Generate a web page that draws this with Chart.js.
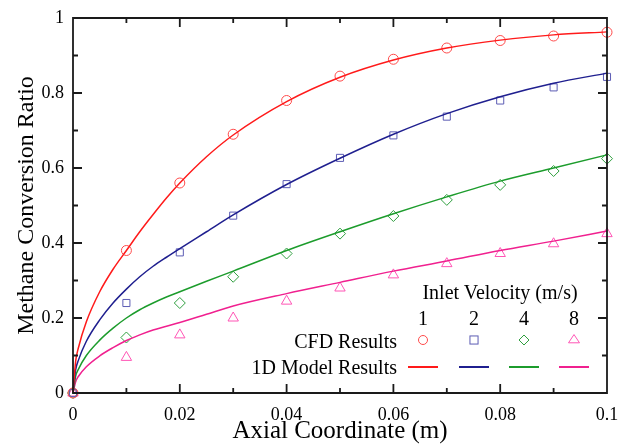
<!DOCTYPE html>
<html>
<head>
<meta charset="utf-8">
<script src="https://cdn.jsdelivr.net/npm/chart.js@4.4.1/dist/chart.umd.min.js"></script>
<style>
  html, body { margin: 0; padding: 0; background: #fff; }
  #wrap { position: relative; width: 626px; height: 446px; }
  #legend { position: absolute; left: 0; top: 0; width: 626px; height: 446px; pointer-events: none;
            font-family: 'Liberation Serif', 'DejaVu Serif', serif; font-size: 20px; color: #000; }
  #legend div { position: absolute; white-space: nowrap; line-height: 1; }
  #legend .c { transform: translate(-50%, -50%); }
  #legend .r { transform: translate(-100%, -50%); }
  #legend svg { position: absolute; left: 0; top: 0; }
</style>
</head>
<body>
<div id="wrap">
  <canvas id="c"></canvas>
  <div id="legend"></div>
</div>
<script>
// CFD sample positions (m)
const cfdX = [0, 0.01, 0.02, 0.03, 0.04, 0.05, 0.06, 0.07, 0.08, 0.09, 0.1];
const cfd1 = [0, 0.38, 0.56, 0.69, 0.78, 0.845, 0.89, 0.92, 0.94, 0.952, 0.962];
const cfd2 = [0, 0.24, 0.375, 0.473, 0.557, 0.627, 0.687, 0.737, 0.78, 0.815, 0.843];
const cfd4 = [0, 0.148, 0.24, 0.31, 0.372, 0.425, 0.472, 0.515, 0.555, 0.592, 0.625];
const cfd8 = [0, 0.095, 0.155, 0.2, 0.245, 0.28, 0.315, 0.345, 0.372, 0.398, 0.425];

// 1D model curves
const modelX = [0, 0.0005, 0.001, 0.0025, 0.005, 0.0075, 0.01, 0.0125, 0.015, 0.0175, 0.02, 0.025, 0.03, 0.04, 0.05, 0.06, 0.07, 0.08, 0.09, 0.1];
const model1 = [0, 0.085, 0.12, 0.19, 0.27, 0.33, 0.38, 0.43, 0.476, 0.52, 0.56, 0.63, 0.688, 0.777, 0.842, 0.888, 0.92, 0.941, 0.955, 0.963];
const model2 = [0, 0.062, 0.087, 0.138, 0.195, 0.24, 0.277, 0.31, 0.338, 0.362, 0.385, 0.43, 0.475, 0.556, 0.626, 0.69, 0.745, 0.79, 0.826, 0.853];
const model4 = [0, 0.045, 0.063, 0.1, 0.141, 0.173, 0.2, 0.222, 0.24, 0.256, 0.27, 0.298, 0.325, 0.38, 0.43, 0.478, 0.523, 0.565, 0.6, 0.635];
const model8 = [0, 0.03, 0.044, 0.07, 0.099, 0.121, 0.14, 0.155, 0.168, 0.178, 0.188, 0.21, 0.232, 0.265, 0.295, 0.325, 0.352, 0.38, 0.405, 0.432];

const velocities = ["1", "2", "4", "8"];
const lineColors = ["#ff1a1a", "#1f1f8f", "#1c9c2c", "#f0208f"];
const markColors = ["#ff4a4a", "#5c5cb4", "#2f9f3f", "#ff55b5"];
const markStyles = ["circle", "rect", "rectRot", "triangle"];
const markRadius = [5, 5, 5.5, 6];

const xTickStep = 0.02, yTickStep = 0.2;
const FONT = "'Liberation Serif', 'DejaVu Serif', serif";

function pts(xs, ys) { return xs.map((x, i) => ({x, y: ys[i]})); }

const datasets = [];
[model1, model2, model4, model8].forEach((m, i) => {
  datasets.push({
    type: "line", data: pts(modelX, m), borderColor: lineColors[i], borderWidth: 1.5,
    pointRadius: 0, cubicInterpolationMode: "monotone", fill: false, clip: false
  });
});
[cfd1, cfd2, cfd4, cfd8].forEach((c, i) => {
  datasets.push({
    type: "scatter", data: pts(cfdX, c), showLine: false, pointStyle: markStyles[i],
    pointRadius: markRadius[i], pointBorderColor: markColors[i], pointBackgroundColor: "rgba(0,0,0,0)",
    pointBorderWidth: 1, clip: false
  });
});

// tabular legend as an html overlay (text stays real text)
(function buildLegend() {
  const box = document.getElementById("legend");
  const colX = [423, 474, 524, 574];
  const add = (cls, x, y, text) => {
    const d = document.createElement("div");
    d.className = cls; d.style.left = x + "px"; d.style.top = y + "px"; d.textContent = text;
    box.appendChild(d);
  };
  add("c", 500, 292, "Inlet Velocity (m/s)");
  velocities.forEach((v, i) => add("c", colX[i], 318, v));
  add("r", 397, 341, "CFD Results");
  add("r", 397, 367, "1D Model Results");

  const ns = "http://www.w3.org/2000/svg";
  const svg = document.createElementNS(ns, "svg");
  svg.setAttribute("width", 626); svg.setAttribute("height", 446);
  const el = (tag, attrs) => {
    const e = document.createElementNS(ns, tag);
    Object.entries(attrs).forEach(([k, v]) => e.setAttribute(k, v));
    svg.appendChild(e);
  };
  colX.forEach((cx, i) => {
    const r = markRadius[i] - 0.5, y = 340, s = markColors[i];
    const base = {fill: "none", stroke: s, "stroke-width": 1};
    if (markStyles[i] === "circle") el("circle", {...base, cx, cy: y, r});
    else if (markStyles[i] === "rect") el("rect", {...base, x: cx - r * 0.9, y: y - r * 0.9, width: r * 1.8, height: r * 1.8});
    else if (markStyles[i] === "rectRot") el("polygon", {...base, points: `${cx},${y - r} ${cx + r},${y} ${cx},${y + r} ${cx - r},${y}`});
    else { const h = r * 1.5; el("polygon", {...base, points: `${cx},${y - h * 0.66} ${cx + r},${y + h * 0.34} ${cx - r},${y + h * 0.34}`}); }
    el("line", {x1: cx - 15, y1: 367, x2: cx + 15, y2: 367, stroke: lineColors[i], "stroke-width": 2});
  });
  box.appendChild(svg);
})();

// frame with inward ticks on all four sides
const framePlugin = {
  id: "frame",
  afterDraw(chart) {
    const ctx = chart.ctx, a = chart.chartArea;
    const sx = chart.scales.x, sy = chart.scales.y;
    ctx.save();
    ctx.strokeStyle = "#1a1a1a";
    ctx.lineWidth = 1.8;
    ctx.beginPath();
    ctx.rect(a.left, a.top, a.right - a.left, a.bottom - a.top);
    for (let k = 1; k < 10; k++) {
      const px = sx.getPixelForValue(k * 0.01), len = k % 2 === 0 ? 9 : 5;
      ctx.moveTo(px, a.bottom); ctx.lineTo(px, a.bottom - len);
      ctx.moveTo(px, a.top); ctx.lineTo(px, a.top + len);
      const py = sy.getPixelForValue(k * 0.1);
      ctx.moveTo(a.left, py); ctx.lineTo(a.left + len, py);
      ctx.moveTo(a.right, py); ctx.lineTo(a.right - len, py);
    }
    ctx.stroke();
    ctx.restore();
  }
};

new Chart(document.getElementById("c"), {
  data: {datasets},
  options: {
    responsive: true, maintainAspectRatio: false, animation: false,
    layout: {padding: {top: 18, right: 19, left: 12, bottom: 0}},
    plugins: {legend: {display: false}, tooltip: {enabled: false}},
    scales: {
      x: {
        type: "linear", min: 0, max: 0.1,
        grid: {display: false}, border: {display: false},
        ticks: {stepSize: xTickStep, color: "#000", font: {family: FONT, size: 18}, padding: 3,
          maxRotation: 0, callback: v => +v.toFixed(2) + ""},
        title: {display: true, text: "Axial Coordinate (m)", color: "#000", font: {family: FONT, size: 25}, padding: {top: 0, bottom: 0}},
        afterFit(s) { s.height = 53; }
      },
      y: {
        type: "linear", min: 0, max: 1,
        grid: {display: false}, border: {display: false},
        ticks: {stepSize: yTickStep, color: "#000", font: {family: FONT, size: 18}, padding: 1,
          callback: v => +v.toFixed(1) + ""},
        title: {display: true, text: "Methane Conversion Ratio", color: "#000", font: {family: FONT, size: 24}, padding: {top: 0, bottom: 4}},
        afterFit(s) { s.width = 61; }
      }
    }
  },
  plugins: [framePlugin]
});
</script>
</body>
</html>
